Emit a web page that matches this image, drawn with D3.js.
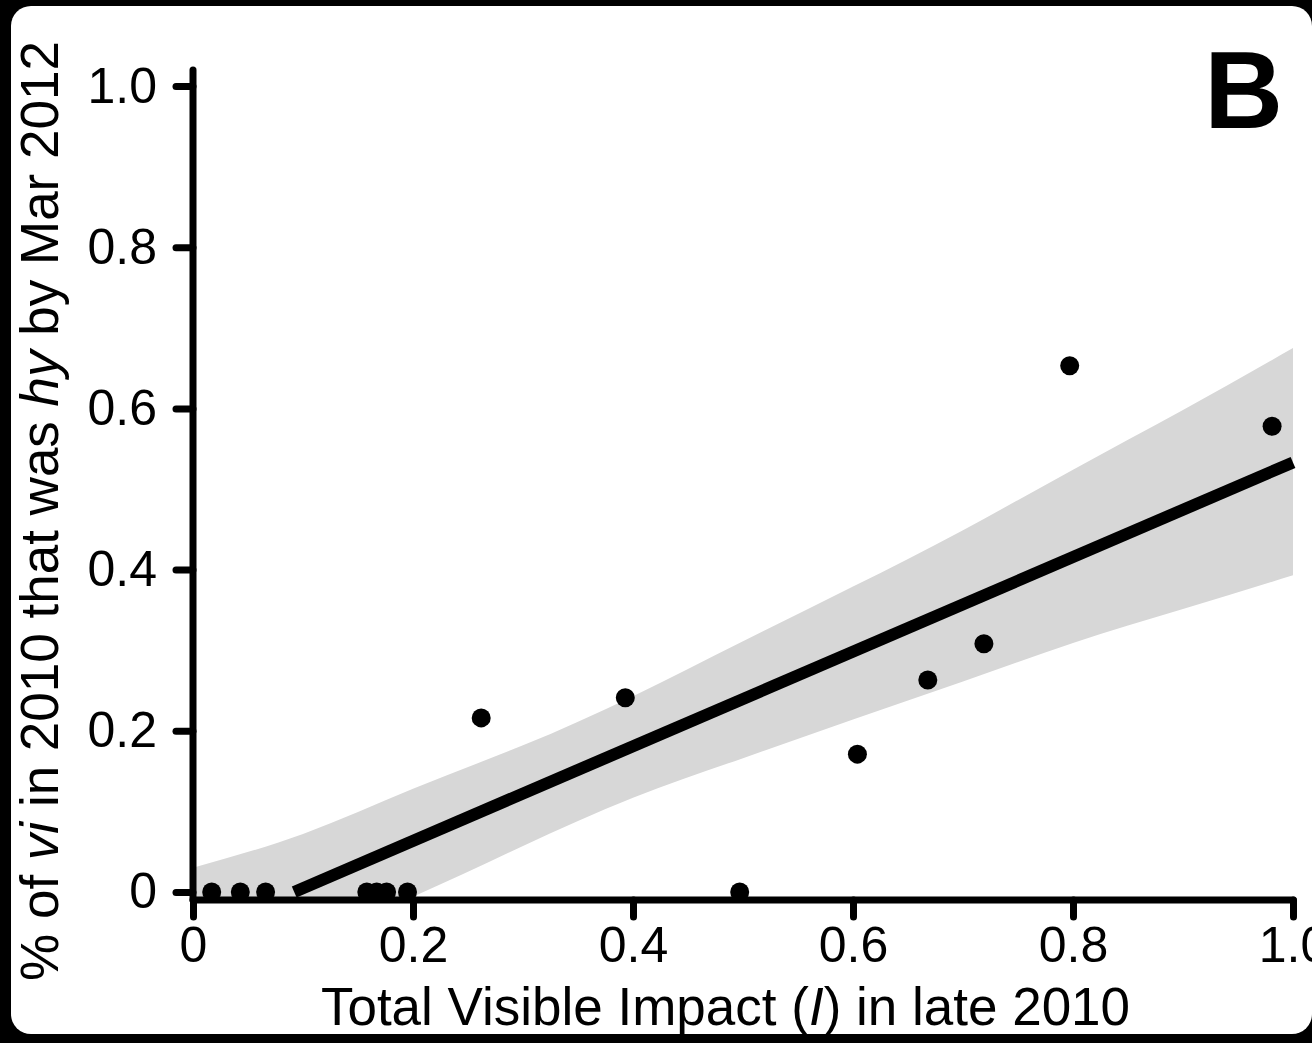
<!DOCTYPE html>
<html>
<head>
<meta charset="utf-8">
<script src="https://cdn.jsdelivr.net/npm/d3@7"></script>
<style>
  body { margin: 0; background: #000; }
  svg { display: block; font-family: "Liberation Sans", Arial, sans-serif; }
  .axis text { font-size: 50px; fill: #000; }
</style>
</head>
<body>
<script>

// points
var impact  = [0.017, 0.043, 0.066, 0.158, 0.167, 0.176, 0.195, 0.262, 0.393, 0.497, 0.604, 0.668, 0.719, 0.797, 0.981];
var hyShare = [0,     0,     0,     0,     0,     0,     0,     0.216, 0.241, 0,     0.171, 0.263, 0.308, 0.653, 0.578];

// fitted line (start where it crosses 0, to 1.0)
var fitX = [0.092, 1.0];
var fitY = [0,     0.533];

// confidence band edges
var bandX  = [0,      0.1,    0.2,    0.3,   0.4,   0.5,   0.6,   0.7,   0.8,   0.9,   1.0];
var bandHi = [0.030,  0.072,  0.128,  0.182, 0.243, 0.311, 0.379, 0.449, 0.524, 0.598, 0.675];
var bandLo = [-0.138, -0.066, -0.006, 0.057, 0.117, 0.166, 0.214, 0.261, 0.309, 0.351, 0.393];

var ticks = [0, 0.2, 0.4, 0.6, 0.8, 1.0];

var W = 1312, H = 1043;

var svg = d3.select("body").append("svg")
    .attr("width", W)
    .attr("height", H);

// white card on black
svg.append("rect")
    .attr("x", 11).attr("y", 6)
    .attr("width", 1301).attr("height", 1028)
    .attr("rx", 20)
    .attr("fill", "#fff");

var x = d3.scaleLinear().domain([0, 1]).range([193, 1293]);
var y = d3.scaleLinear().domain([-0.01, 1.02]).range([900, 70]);

svg.append("defs").append("clipPath")
    .attr("id", "clip")
  .append("rect")
    .attr("x", x(0)).attr("y", y(1.02))
    .attr("width", x(1) - x(0))
    .attr("height", y(-0.01) - y(1.02));

var band = bandX.map(function(d, i) { return {x: d, lo: bandLo[i], hi: bandHi[i]}; });

var area = d3.area()
    .curve(d3.curveNatural)
    .x(function(d) { return x(d.x); })
    .y0(function(d) { return y(d.lo); })
    .y1(function(d) { return y(d.hi); });

svg.append("path")
    .datum(band)
    .attr("clip-path", "url(#clip)")
    .attr("fill", "#d7d7d7")
    .attr("d", area);

// regression line
svg.append("path")
    .datum(fitX.map(function(d, i) { return [d, fitY[i]]; }))
    .attr("fill", "none")
    .attr("stroke", "#000")
    .attr("stroke-width", 12)
    .attr("d", d3.line()
        .x(function(d) { return x(d[0]); })
        .y(function(d) { return y(d[1]); }));

// points
svg.append("g").selectAll("circle")
    .data(impact)
  .enter().append("circle")
    .attr("cx", function(d) { return x(d); })
    .attr("cy", function(d, i) { return y(hyShare[i]); })
    .attr("r", 9.5)
    .attr("fill", "#000");

var fmt = function(d) { return d === 0 ? "0" : d3.format(".1f")(d); };

// axes
var gx = svg.append("g")
    .attr("class", "axis")
    .attr("transform", "translate(0," + y(-0.01) + ")")
    .call(d3.axisBottom(x).tickValues(ticks).tickFormat(fmt).tickSize(17).tickPadding(9));

var gy = svg.append("g")
    .attr("class", "axis")
    .attr("transform", "translate(" + x(0) + ",0)")
    .call(d3.axisLeft(y).tickValues(ticks).tickFormat(fmt).tickSize(17).tickPadding(19));

[gx, gy].forEach(function(g) {
    g.select(".domain").remove();
    g.selectAll(".tick line")
        .attr("stroke", "#000")
        .attr("stroke-width", 7)
        .attr("stroke-linecap", "round");
});

// axis lines with round caps
svg.append("line")
    .attr("x1", x(0)).attr("x2", x(1))
    .attr("y1", y(-0.01)).attr("y2", y(-0.01))
    .attr("stroke", "#000").attr("stroke-width", 7).attr("stroke-linecap", "round");

svg.append("line")
    .attr("x1", x(0)).attr("x2", x(0))
    .attr("y1", y(1.02)).attr("y2", y(-0.01))
    .attr("stroke", "#000").attr("stroke-width", 7).attr("stroke-linecap", "round");

// x title
var xt = svg.append("text")
    .attr("x", 725.5)
    .attr("y", 1025)
    .attr("text-anchor", "middle")
    .style("font-size", "53px");
xt.append("tspan").text("Total Visible Impact (");
xt.append("tspan").style("font-style", "italic").text("I");
xt.append("tspan").text(") in late 2010");

// y title
var yt = svg.append("text")
    .attr("transform", "translate(58,511) rotate(-90)")
    .attr("text-anchor", "middle")
    .style("font-size", "53px");
yt.append("tspan").text("% of ");
yt.append("tspan").style("font-style", "italic").text("vi");
yt.append("tspan").text(" in 2010 that was ");
yt.append("tspan").style("font-style", "italic").text("hy");
yt.append("tspan").text(" by Mar 2012");

// panel letter
svg.append("text")
    .attr("x", 1283)
    .attr("y", 128)
    .attr("text-anchor", "end")
    .style("font-size", "109px")
    .style("font-weight", "bold")
    .text("B");

</script>
</body>
</html>
